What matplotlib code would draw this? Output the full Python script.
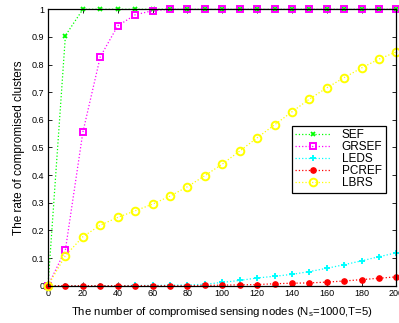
import matplotlib
matplotlib.use('Agg')
import matplotlib.pyplot as plt
import numpy as np

plt.rcParams['font.family'] = ['Liberation Sans', 'DejaVu Sans']

nodes = [0, 10, 20, 30, 40, 50, 60, 70, 80, 90, 100, 110, 120, 130, 140, 150, 160, 170, 180, 190, 200]

sef = [0, 0.905, 1, 1, 1, 1, 1, 1, 1, 1, 1, 1, 1, 1, 1, 1, 1, 1, 1, 1, 1]
grsef = [0, 0.13, 0.555, 0.828, 0.94, 0.98, 0.995, 1, 1, 1, 1, 1, 1, 1, 1, 1, 1, 1, 1, 1, 1]
leds = [0, 0, 0, 0, 0, 0.001, 0.001, 0.002, 0.003, 0.005, 0.012, 0.019, 0.028, 0.034,
        0.041, 0.051, 0.063, 0.076, 0.09, 0.105, 0.119]
pcref = [0, 0, 0, 0, 0, 0, 0, 0, 0, 0.001, 0.002, 0.003, 0.004, 0.007, 0.009, 0.01,
         0.013, 0.017, 0.022, 0.027, 0.032]
lbrs = [0, 0.109, 0.177, 0.219, 0.247, 0.271, 0.295, 0.324, 0.358, 0.398, 0.44, 0.487,
        0.535, 0.582, 0.629, 0.675, 0.716, 0.753, 0.788, 0.82, 0.846]

fig = plt.figure(figsize=(3.99, 3.23), dpi=100)
ax = fig.add_axes([0.1203, 0.1155, 0.8734, 0.8557])

ax.plot(nodes, sef, ':', color='#00ff00', lw=0.9, marker='x', ms=3.5, mew=1.3, label='SEF', clip_on=False)
ax.plot(nodes, grsef, ':', color='#ff00ff', lw=0.9, marker='s', ms=4.2, mew=1.4, mfc='none', label='GRSEF', clip_on=False)
ax.plot(nodes, leds, ':', color='#00ffff', lw=0.9, marker='+', ms=5, mew=1.4, label='LEDS', clip_on=False)
ax.plot(nodes, pcref, ':', color='#ff0000', lw=0.9, marker='o', ms=3.8, mew=1, label='PCREF', clip_on=False)
ax.plot(nodes, lbrs, ':', color='#ffff00', lw=0.9, marker='o', ms=5.5, mew=1.4, mfc='none', label='LBRS', clip_on=False)

ax.set_xlim(0, 200)
ax.set_ylim(0, 1)
ax.set_xticks(np.arange(0, 201, 20))
ax.set_yticks(np.arange(0, 1.01, 0.1))
ax.set_yticklabels(['0', '0.1', '0.2', '0.3', '0.4', '0.5', '0.6', '0.7', '0.8', '0.9', '1'])
ax.tick_params(direction='in', top=True, right=True, labelsize=6.5, length=3, width=0.6, pad=2.5)
for s in ax.spines.values():
    s.set_linewidth(0.9)

ax.set_xlabel('The number of compromised sensing nodes (N$_\\mathregular{s}$=1000,T=5)', fontsize=8.2, labelpad=5)
ax.set_ylabel('The rate of compromised clusters', fontsize=8.5, labelpad=5)

leg = ax.legend(loc='upper left', bbox_to_anchor=(0.70, 0.578), borderaxespad=0, fontsize=8.5,
                fancybox=False, edgecolor='black', framealpha=1, handlelength=3.0, borderpad=0.3,
                labelspacing=0.0, handletextpad=0.9)
leg.get_frame().set_linewidth(0.9)

fig.savefig('out.png', dpi=100)
